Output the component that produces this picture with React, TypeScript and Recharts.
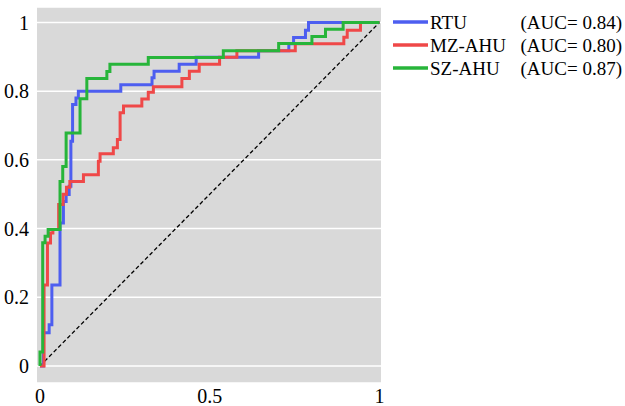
import React from "react";
import { LineChart, Line, XAxis, YAxis, CartesianGrid, Legend } from "recharts";

// ROC corner points (fpr where TPR rises, TPR after the rise)
const rtuFpr = [0, 0.01, 0.027, 0.035, 0.059, 0.069, 0.077, 0.086, 0.091, 0.096, 0.106, 0.113, 0.238, 0.33, 0.336, 0.41, 0.46, 0.644, 0.733, 0.747, 0.782, 0.791, 1];
const rtuTpr = [0, 0.097, 0.12, 0.236, 0.416, 0.479, 0.499, 0.523, 0.654, 0.761, 0.78, 0.8, 0.819, 0.839, 0.858, 0.878, 0.899, 0.918, 0.938, 0.956, 0.977, 1, 1];

const mzFpr = [0, 0.012, 0.022, 0.031, 0.038, 0.055, 0.068, 0.078, 0.088, 0.128, 0.172, 0.177, 0.216, 0.228, 0.236, 0.246, 0.3, 0.319, 0.334, 0.418, 0.44, 0.469, 0.529, 0.58, 0.752, 0.895, 0.905, 0.944, 1];
const mzTpr = [0, 0.236, 0.358, 0.387, 0.397, 0.47, 0.5, 0.52, 0.537, 0.557, 0.596, 0.618, 0.635, 0.659, 0.737, 0.757, 0.777, 0.797, 0.813, 0.837, 0.858, 0.878, 0.899, 0.918, 0.938, 0.957, 0.977, 1, 1];

const szFpr = [0, 0, 0.008, 0.015, 0.024, 0.059, 0.067, 0.077, 0.118, 0.138, 0.197, 0.206, 0.319, 0.54, 0.703, 0.801, 0.841, 0.893, 1];
const szTpr = [0, 0.041, 0.359, 0.378, 0.397, 0.537, 0.581, 0.678, 0.778, 0.837, 0.857, 0.878, 0.898, 0.918, 0.939, 0.959, 0.98, 1, 1];

const chanceFpr = [0, 1];
const chanceTpr = [0, 1];

const seriesNames = ["RTU", "MZ-AHU", "SZ-AHU"];
const aucLabels = ["(AUC= 0.84)", "(AUC= 0.80)", "(AUC= 0.87)"];
const seriesColors = ["#4d5ef0", "#ef4848", "#27b53a"];

const xTicks = [0, 0.5, 1];
const yTicks = [0, 0.2, 0.4, 0.6, 0.8, 1];

const toPoints = (xs: number[], ys: number[]) => xs.map((x, i) => ({ fpr: x, tpr: ys[i] }));

const rtuData = toPoints(rtuFpr, rtuTpr);
const mzData = toPoints(mzFpr, mzTpr);
const szData = toPoints(szFpr, szTpr);
const chanceData = toPoints(chanceFpr, chanceTpr);

const FONT = "'Liberation Serif', 'Times New Roman', serif";

const LegendContent = () => (
  <svg width={240} height={80} style={{ display: "block" }}>
    {seriesNames.map((name, i) => {
      const cy = 17 + i * 23;
      return (
        <g key={name}>
          <line x1={8} x2={43} y1={cy} y2={cy} stroke={seriesColors[i]} strokeWidth={3.5} />
          <text x={45} y={cy + 7} fontFamily={FONT} fontSize={19} fill="#000">
            {name}
          </text>
          <text x={237} y={cy + 7} fontFamily={FONT} fontSize={19} fill="#000" textAnchor="end">
            {aucLabels[i]}
          </text>
        </g>
      );
    })}
  </svg>
);

export default function App() {
  return (
    <div style={{ position: "absolute", left: 0, top: 0 }}>
      <LineChart width={625} height={406} margin={{ top: 7, right: 244, bottom: 0, left: 0 }}>
        <CartesianGrid fill="#d9d9d9" stroke="#ffffff" strokeWidth={1.5} vertical={false} />
        <XAxis
          dataKey="fpr"
          type="number"
          domain={[-0.0088, 1.0045]}
          allowDataOverflow
          ticks={xTicks}
          height={23}
          axisLine={false}
          tickLine={false}
          tickMargin={0}
          tick={{ fontFamily: FONT, fontSize: 20, fill: "#000" }}
        />
        <YAxis
          type="number"
          domain={[-0.0495, 1.045]}
          allowDataOverflow
          ticks={yTicks}
          width={37}
          axisLine={false}
          tickLine={false}
          tick={{ fontFamily: FONT, fontSize: 20, fill: "#000" }}
        />
        <Legend
          layout="vertical"
          align="center"
          verticalAlign="middle"
          content={<LegendContent />}
          wrapperStyle={{ left: 385, top: 5, width: 240, height: 80 }}
        />
        <Line
          data={chanceData}
          dataKey="tpr"
          type="linear"
          stroke="#000"
          strokeWidth={1.3}
          strokeDasharray="4 2.5"
          dot={false}
          activeDot={false}
          legendType="none"
          isAnimationActive={false}
        />
        <Line data={rtuData} dataKey="tpr" name={seriesNames[0]} type="stepAfter" stroke={seriesColors[0]} strokeWidth={3} dot={false} activeDot={false} isAnimationActive={false} />
        <Line data={mzData} dataKey="tpr" name={seriesNames[1]} type="stepAfter" stroke={seriesColors[1]} strokeWidth={3} dot={false} activeDot={false} isAnimationActive={false} />
        <Line data={szData} dataKey="tpr" name={seriesNames[2]} type="stepAfter" stroke={seriesColors[2]} strokeWidth={3} dot={false} activeDot={false} isAnimationActive={false} />
      </LineChart>
    </div>
  );
}
